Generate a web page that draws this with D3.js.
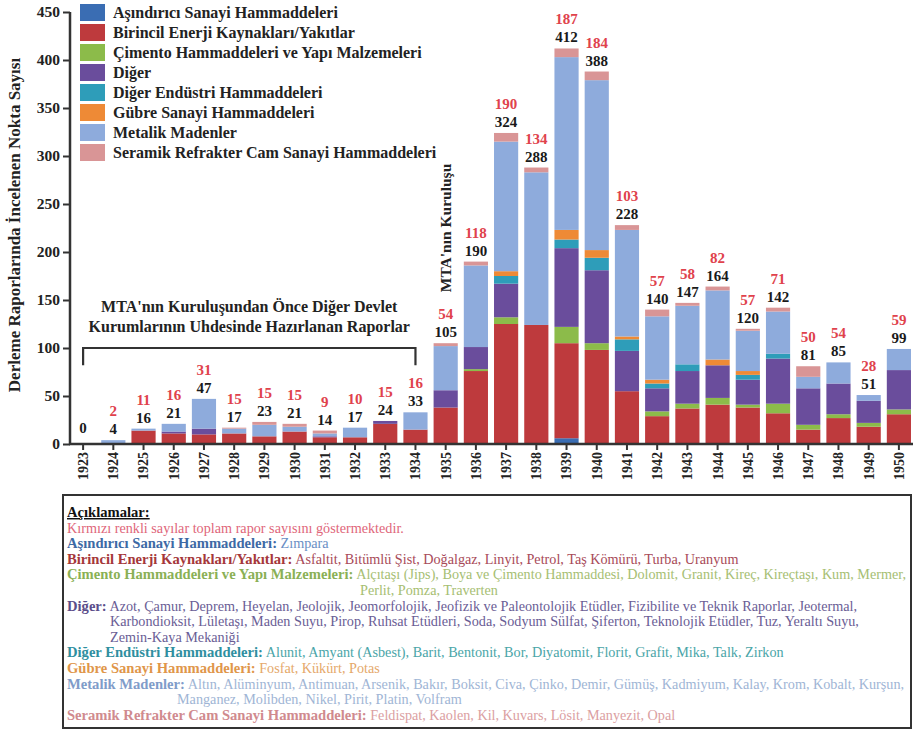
<!DOCTYPE html>
<html><head><meta charset="utf-8">
<script src="https://cdn.jsdelivr.net/npm/d3@7"></script>
<style>
body{margin:0;background:#fff;}
svg{display:block;}
</style></head><body>
<svg id="c" width="914" height="731"></svg>
<script>
const years = ["1923","1924","1925","1926","1927","1928","1929","1930","1931","1932","1933","1934","1935","1936","1937","1938","1939","1940","1941","1942","1943","1944","1945","1946","1947","1948","1949","1950"];
const totalLabels = [0,4,16,21,47,17,23,21,14,17,24,33,105,190,324,288,412,388,228,140,147,164,120,142,81,85,51,99];
const redLabels = [null,2,11,16,31,15,15,15,9,10,15,16,54,118,190,134,187,184,103,57,58,82,57,71,50,54,28,59];
const seriesNames = ["Aşındırıcı Sanayi Hammaddeleri","Birincil Enerji Kaynakları/Yakıtlar","Çimento Hammaddeleri ve Yapı Malzemeleri","Diğer","Diğer Endüstri Hammaddeleri","Gübre Sanayi Hammaddeleri","Metalik Madenler","Seramik Refrakter Cam Sanayi Hammaddeleri"];
const seriesColors = ["#3a6db3","#be3a3d","#8cbb4a","#6a4d9c","#2e9db9","#ee8a36","#8eabdc","#d99596"];
const asindirici = [0,0,0,0,0,0,0,0,0,0,0,0,0,0,1,0,6,0,0,0,0,0,0,0,0,0,0,0];
const birincil   = [0,0,14,11,10,11,8,13,7,7,21,15,38,76,124,124,99,98,55,29,37,41,38,32,15,27,18,31];
const cimento    = [0,0,0,0,0,0,0,0,0,0,0,0,0,2,7,0,17,7,0,5,5,7,3,10,5,4,4,5];
const diger      = [0,0,0,2,6,0,0,0,1,0,3,0,18,23,35,0,82,76,42,24,34,34,26,47,38,32,23,41];
const digerEnd   = [0,0,0,0,0,0,0,0,0,0,0,0,0,0,8,0,9,13,12,5,7,0,5,5,0,0,0,0];
const gubre      = [0,0,0,0,0,0,0,0,0,0,0,0,0,0,5,0,10,8,3,4,0,6,4,0,0,0,0,0];
const metalik    = [0,4,2,8,31,5,12,5,3,10,0,18,46,85,135,159,180,177,111,66,61,72,42,44,12,22,6,22];
const seramik    = [0,0,0,0,0,1,3,3,3,0,0,0,3,4,9,5,9,9,5,7,3,4,2,4,11,0,0,0];
const yTicks = [0,50,100,150,200,250,300,350,400,450];

const seriesValues = [asindirici,birincil,cimento,diger,digerEnd,gubre,metalik,seramik];
const keys = seriesNames;
const table = years.map((y,i)=>{const o={year:y}; keys.forEach((k,j)=>o[k]=seriesValues[j][i]); return o;});

const svg = d3.select("#c");
const FONT = '"Liberation Serif","Times New Roman",serif';
const x = d3.scaleBand().domain(years).range([68,914]).paddingInner(0.2).paddingOuter(0.1);
const y = d3.scaleLinear().domain([0,450]).range([444,12]);
const color = d3.scaleOrdinal().domain(keys).range(seriesColors);

const stack = d3.stack().keys(keys)(table);
svg.append("g").selectAll("g").data(stack).join("g").attr("fill",d=>color(d.key))
  .selectAll("rect").data(d=>d).join("rect")
  .attr("x",d=>x(d.data.year)).attr("width",x.bandwidth())
  .attr("y",d=>y(d[1])).attr("height",d=>Math.max(0,y(d[0])-y(d[1])));

// axes
const yAxis = svg.append("g").attr("transform","translate(70,0)")
  .call(d3.axisLeft(y).tickValues(yTicks).tickSize(7).tickPadding(3));
yAxis.select(".domain").attr("stroke","#333").attr("stroke-width",2.5).attr("d","M0,"+y(450)+"V"+(y(0)+1));
yAxis.selectAll(".tick line").attr("stroke","#333").attr("stroke-width",2);
yAxis.selectAll(".tick text").attr("font-size",15.5).attr("font-weight","bold").attr("fill","#222");

const xAxis = svg.append("g").attr("transform","translate(0,444)")
  .call(d3.axisBottom(x).tickSize(6).tickPadding(3));
xAxis.select(".domain").attr("stroke","#333").attr("stroke-width",2.5).attr("d","M69,0H913");
xAxis.selectAll(".tick line").attr("stroke","#333").attr("stroke-width",2);
xAxis.selectAll(".tick text").attr("font-size",14).attr("font-weight","bold").attr("fill","#222")
  .attr("transform","rotate(-90)").attr("text-anchor","end").attr("x",-8).attr("y",0).attr("dy","0.35em");

// y title
svg.append("text").attr("transform","translate(20,225) rotate(-90)").attr("text-anchor","middle")
  .attr("font-size",17).attr("font-weight","bold").attr("fill","#222")
  .text("Derleme Raporlarında İncelenen Nokta Sayısı");

// value labels
const lab = svg.append("g").attr("font-size",15).attr("font-weight","bold").attr("text-anchor","middle");
years.forEach((yr,i)=>{
  const cx = x(yr)+x.bandwidth()/2;
  const base = y(totalLabels[i]) - 6 - (totalLabels[i]===0?5:0);
  lab.append("text").attr("x",cx).attr("y",base).attr("fill","#1a1a1a").text(totalLabels[i]);
  if(redLabels[i]!==null) lab.append("text").attr("x",cx).attr("y",base-18).attr("fill","#e0424c").text(redLabels[i]);
});

// legend
const leg = svg.append("g");
keys.forEach((k,i)=>{
  leg.append("rect").attr("x",80).attr("y",4+20*i).attr("width",25).attr("height",17).attr("fill",color(k));
  leg.append("text").attr("x",113).attr("y",18+20*i).attr("font-size",16).attr("font-weight","bold").attr("fill","#222").text(k);
});

// MTA founding annotation
svg.append("text").attr("transform",`translate(${x("1935")+x.bandwidth()/2+5},${y(225)}) rotate(-90)`)
  .attr("text-anchor","middle").attr("font-size",15.5).attr("font-weight","bold").attr("fill","#222").text("MTA'nın Kuruluşu");

// bracket
const bx0 = x("1923")+x.bandwidth()/2, bx1 = x("1934")+x.bandwidth()/2;
svg.append("path").attr("fill","none").attr("stroke","#333").attr("stroke-width",2.2)
  .attr("d",`M${bx0},${y(82)}V${y(100)}H${bx1}V${y(82)}`);
svg.append("text").attr("x",(bx0+bx1)/2).attr("y",y(137)).attr("text-anchor","middle").attr("font-size",16).attr("font-weight","bold").attr("fill","#222").text("MTA'nın Kuruluşundan Önce Diğer Devlet");
svg.append("text").attr("x",(bx0+bx1)/2).attr("y",y(117)).attr("text-anchor","middle").attr("font-size",16).attr("font-weight","bold").attr("fill","#222").text("Kurumlarının Uhdesinde Hazırlanan Raporlar");

// explanation box
svg.append("rect").attr("x",63).attr("y",495).attr("width",848).attr("height",233).attr("fill","#fff").attr("stroke","#333").attr("stroke-width",2);
const notes = [
  {x:67, parts:[["Açıklamalar:","#111",true,true]]},
  {x:67, parts:[["Kırmızı renkli sayılar toplam rapor sayısını göstermektedir.","#e0667a",false]]},
  {x:67, parts:[["Aşındırıcı Sanayi Hammaddeleri:","#3d6aa5",true],[" Zımpara","#6a8fc4",false]]},
  {x:67, parts:[["Birincil Enerji Kaynakları/Yakıtlar:","#a5373a",true],[" Asfaltit, Bitümlü Şist, Doğalgaz, Linyit, Petrol, Taş Kömürü, Turba, Uranyum","#a84a58",false]]},
  {x:67, parts:[["Çimento Hammaddeleri ve Yapı Malzemeleri:","#8ab055",true],[" Alçıtaşı (Jips), Boya ve Çimento Hammaddesi, Dolomit, Granit, Kireç, Kireçtaşı, Kum, Mermer,","#a6be72",false]]},
  {x:360, parts:[["Perlit, Pomza, Traverten","#a6be72",false]]},
  {x:67, parts:[["Diğer:","#5b4d8a",true],[" Azot, Çamur, Deprem, Heyelan, Jeolojik, Jeomorfolojik, Jeofizik ve Paleontolojik Etüdler, Fizibilite ve Teknik Raporlar, Jeotermal,","#6a5d95",false]]},
  {x:110, parts:[["Karbondioksit, Lületaşı, Maden Suyu, Pirop, Ruhsat Etüdleri, Soda, Sodyum Sülfat, Şiferton, Teknolojik Etüdler, Tuz, Yeraltı Suyu,","#6a5d95",false]]},
  {x:110, parts:[["Zemin-Kaya Mekaniği","#6a5d95",false]]},
  {x:67, parts:[["Diğer Endüstri Hammaddeleri:","#2f8fa0",true],[" Alunit, Amyant (Asbest), Barit, Bentonit, Bor, Diyatomit, Florit, Grafit, Mika, Talk, Zirkon","#4aa5a8",false]]},
  {x:67, parts:[["Gübre Sanayi Hammaddeleri:","#e0964a",true],[" Fosfat, Kükürt, Potas","#e5a86a",false]]},
  {x:67, parts:[["Metalik Madenler:","#7f9cc9",true],[" Altın, Alüminyum, Antimuan, Arsenik, Bakır, Boksit, Civa, Çinko, Demir, Gümüş, Kadmiyum, Kalay, Krom, Kobalt, Kurşun,","#a0b5d5",false]]},
  {x:177, parts:[["Manganez, Molibden, Nikel, Pirit, Platin, Volfram","#a0b5d5",false]]},
  {x:67, parts:[["Seramik Refrakter Cam Sanayi Hammaddeleri:","#d08a8e",true],[" Feldispat, Kaolen, Kil, Kuvars, Lösit, Manyezit, Opal","#dba0a2",false]]}
];
notes.forEach((n,i)=>{
  const t = svg.append("text").attr("x",n.x).attr("y",517+15.6*i).attr("font-size",14.2);
  n.parts.forEach(p=>{
    const s = t.append("tspan").attr("fill",p[1]).text(p[0]);
    if(p[2]) s.attr("font-weight","bold").attr("font-size",14.6);
    if(p[3]) s.attr("text-decoration","underline");
  });
});
svg.selectAll("text").style("font-family",FONT);
</script>
</body></html>
